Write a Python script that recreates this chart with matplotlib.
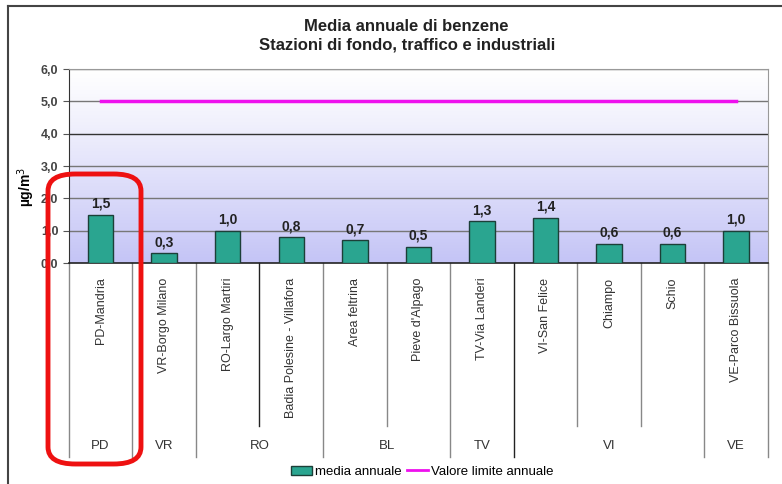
import matplotlib.pyplot as plt
import numpy as np
from matplotlib.lines import Line2D
from matplotlib.patches import Patch, FancyBboxPatch
import matplotlib.transforms as mtransforms

plt.rcParams['font.family'] = ['Liberation Sans', 'DejaVu Sans']

stations = ['PD-Mandria', 'VR-Borgo Milano', 'RO-Largo Martiri',
            'Badia Polesine - Villafora', 'Area feltrina', "Pieve d'Alpago",
            'TV-Via Landeri', 'VI-San Felice', 'Chiampo', 'Schio',
            'VE-Parco Bissuola']
provinces = ['PD', 'VR', 'RO', 'BL', 'TV', 'VI', 'VE']
group_sizes = [1, 1, 2, 2, 1, 3, 1]
media = [1.5, 0.3, 1.0, 0.8, 0.7, 0.5, 1.3, 1.4, 0.6, 0.6, 1.0]
limite = 5.0
yticks = [0, 1, 2, 3, 4, 5, 6]

fig = plt.figure(figsize=(7.82, 4.84), dpi=100)
ax = fig.add_axes([0.088, 0.4566, 0.894, 0.4008])

n = len(stations)
x = np.arange(n)

# gradient background (white at top -> lavender at bottom)
grad = np.linspace(0, 1, 256).reshape(-1, 1)
top = np.array([1.0, 1.0, 1.0])
bot = np.array([196, 196, 246]) / 255
img = top + (bot - top) * grad[:, :, None] ** 1.1
img = img.reshape(256, 1, 3)
ax.imshow(img, extent=[-0.5, n - 0.5, 0, 6], aspect='auto', zorder=0)
ax.set_xlim(-0.5, n - 0.5)
ax.set_ylim(0, 6)

for t in yticks[1:]:
    ax.axhline(t, color='#333333' if t == 4 else '#777777', lw=1.0, zorder=1)

bars = ax.bar(x, media, width=0.4, color='#2aa590', edgecolor='#1c3f38',
              lw=1.0, zorder=3, label='media annuale')
for xi, v in zip(x, media):
    ax.text(xi, v + 0.12, f'{v:.1f}'.replace('.', ','), ha='center',
            va='bottom', fontsize=10, fontweight='bold', color='#222222')

ax.plot([x[0], x[-1]], [limite, limite], color='#ee10ee', lw=2.5, zorder=4,
        label='Valore limite annuale')

ax.set_yticks(yticks)
ax.set_yticklabels([f'{t:.1f}'.replace('.', ',') for t in yticks],
                   fontsize=9, fontweight='bold', color='#444444')
ax.tick_params(axis='y', length=4, color='#555555')
ax.set_xticks([])
for s in ['top', 'right']:
    ax.spines[s].set_color('#999999')
ax.spines['left'].set_color('#333333')
ax.spines['bottom'].set_color('#222222')
ax.spines['bottom'].set_linewidth(1.2)

ax.set_ylabel('µg/m$^3$', fontsize=10, fontweight='bold')
ax.yaxis.set_label_coords(-0.045, 0.39)

# category axis below
trans = mtransforms.blended_transform_factory(ax.transData, ax.transAxes)
bounds = np.cumsum([0] + group_sizes)
for i in range(n + 1):
    xb = i - 0.5
    ylow = -1.0 if i in bounds else -0.84
    col = '#222222' if i in (3, 7) else '#888888'
    ax.add_line(Line2D([xb, xb], [0, ylow], transform=trans, color=col,
                       lw=1.0, clip_on=False))
for xi, s in zip(x, stations):
    ax.text(xi, -0.075, s, transform=trans, rotation=90, ha='center',
            va='top', fontsize=9, color='#333333')
for p, a, b in zip(provinces, bounds[:-1], bounds[1:]):
    ax.text((a + b - 1) / 2, -0.945, p, transform=trans, ha='center',
            va='center', fontsize=9.5, color='#333333')

fig.suptitle('Media annuale di benzene\nStazioni di fondo, traffico e industriali',
             x=0.52, y=0.96, fontsize=12, fontweight='bold', color='#222222',
             linespacing=1.25)

handles = [Patch(facecolor='#2aa590', edgecolor='#1c3f38', label='media annuale'),
           Line2D([], [], color='#ee10ee', lw=2, label='Valore limite annuale')]
fig.legend(handles=handles, loc='center', bbox_to_anchor=(0.54, 0.025), ncol=2,
           frameon=False, fontsize=9.5, handlelength=1.6, handletextpad=0.2,
           columnspacing=0.4, borderpad=0)

# outer frame
fig.add_artist(Line2D([8 / 782, 8 / 782], [0, 1 - 6 / 484], color='#444444',
                      lw=1.5, transform=fig.transFigure))
fig.add_artist(Line2D([8 / 782, 1], [1 - 6 / 484, 1 - 6 / 484], color='#444444',
                      lw=1.5, transform=fig.transFigure))

# red highlight box
fig.add_artist(FancyBboxPatch((48 / 782, 1 - 464 / 484), 93 / 782, 290 / 484,
                              boxstyle='round,pad=0,rounding_size=0.035',
                              transform=fig.transFigure, fill=False,
                              edgecolor='#ee1111', lw=3.5, zorder=10))

fig.savefig('out.png', dpi=100)
